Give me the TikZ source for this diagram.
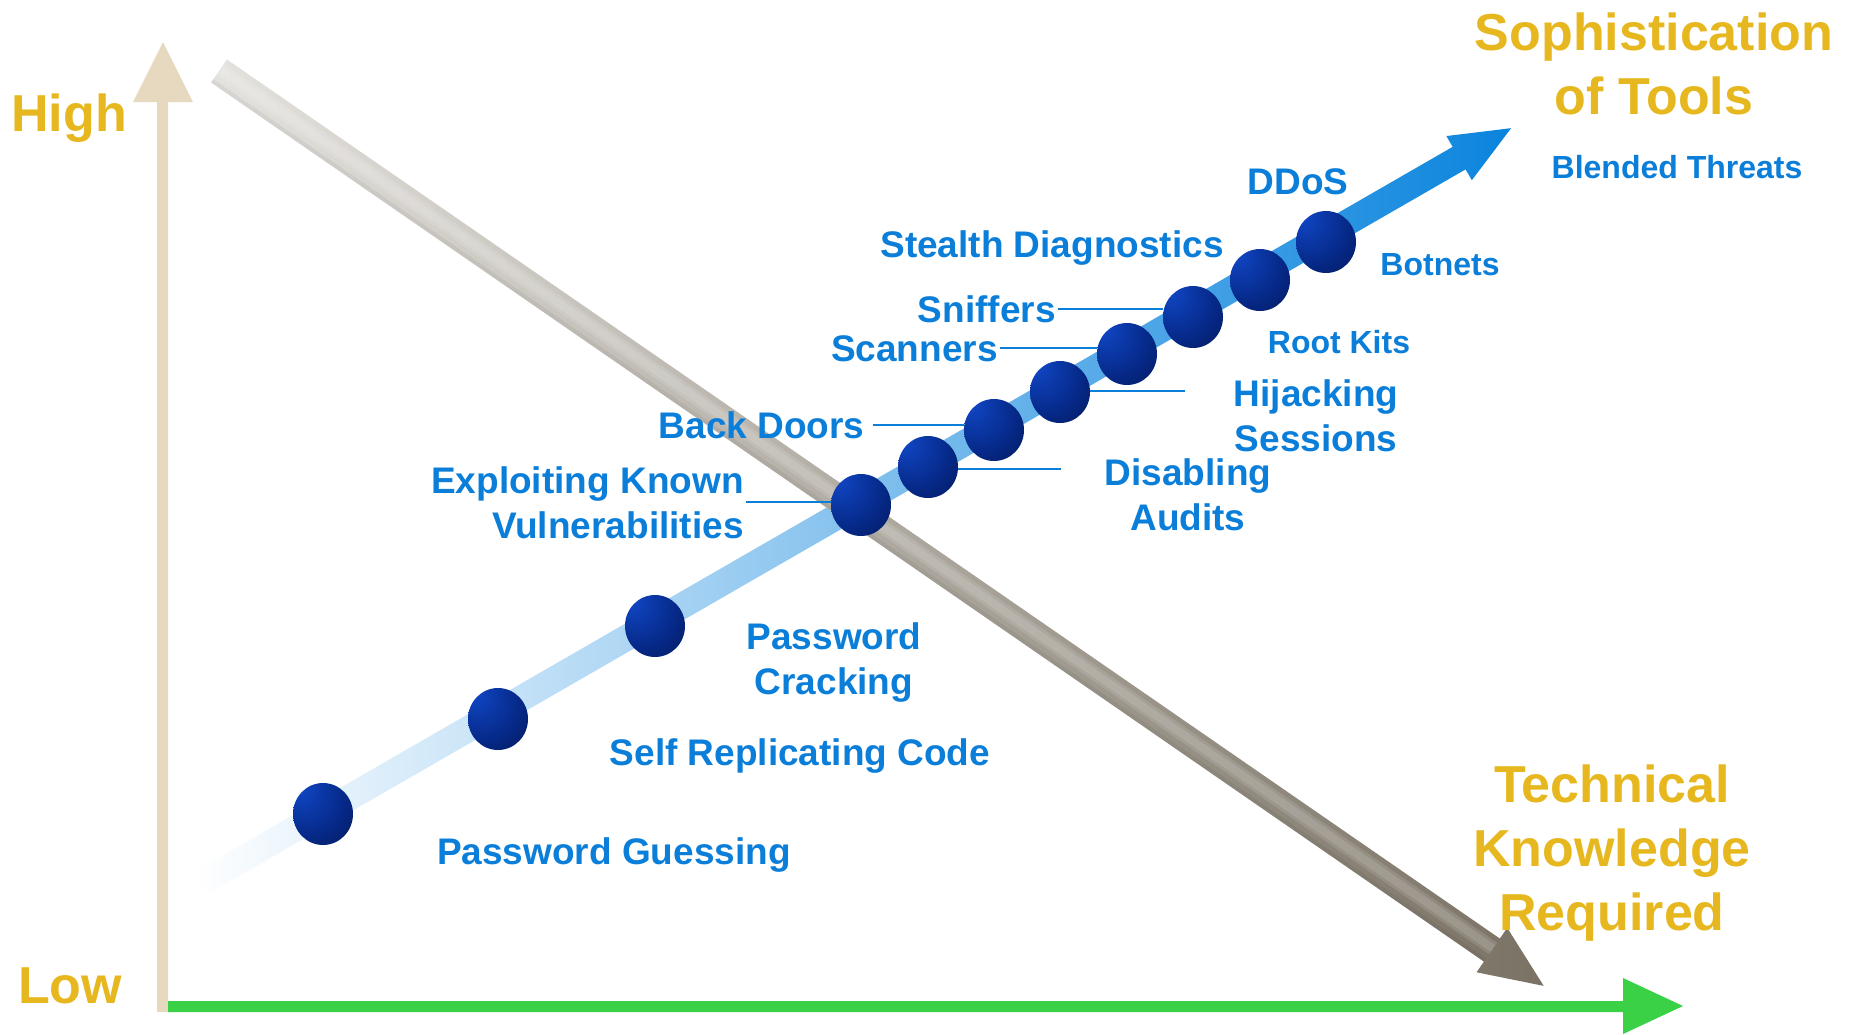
\documentclass[tikz,border=0pt]{standalone}
\usepackage{fontspec}
\setmainfont{Liberation Sans}
\usetikzlibrary{shapes.geometric}
\definecolor{gold}{HTML}{E6B71E}
\definecolor{lblue}{HTML}{0A7ED8}
\definecolor{beige}{HTML}{E6D9BF}
\definecolor{agreen}{HTML}{3AD147}
\definecolor{ablue}{HTML}{0A84DD}
\definecolor{greyA}{HTML}{E4E2DE}
\definecolor{greyB}{HTML}{7A7264}
\definecolor{ballhi}{HTML}{1148C8}
\definecolor{ballmid}{HTML}{062A8A}
\definecolor{balldk}{HTML}{021450}
\definecolor{ballxd}{HTML}{000A28}
\pgfdeclareradialshading{ballshade}{\pgfpoint{-22bp}{22bp}}{color(0bp)=(ballhi); color(30bp)=(ballmid); color(55bp)=(balldk); color(80bp)=(ballxd)}
\tikzset{
  lbl/.style={text=lblue, font=\bfseries\fontsize{18.5}{22.5}\selectfont, inner sep=0pt, text height=13.25pt, text depth=0pt},
  lblm/.style={text=lblue, font=\bfseries\fontsize{18.5}{22.5}\selectfont, inner sep=0pt, align=center},
  slbl/.style={text=lblue, font=\bfseries\fontsize{16}{19}\selectfont, inner sep=0pt, text height=11.45pt, text depth=0pt},
  ttl/.style={text=gold, font=\bfseries\fontsize{26}{32}\selectfont, inner sep=0pt, text height=18.6pt, text depth=0pt},
  ttlm/.style={text=gold, font=\bfseries\fontsize{26}{32}\selectfont, inner sep=0pt, align=center},
  leader/.style={draw=lblue, line width=1pt},
  ball/.style={ellipse, minimum width=30pt, minimum height=31pt, inner sep=0pt, shading=ballshade},
}
\begin{document}
\begin{tikzpicture}[x=0.5pt,y=-0.5pt]
\useasboundingbox (0,0) rectangle (1858,1034);
% vertical axis (beige)
\fill[beige] (157,1012) -- (157,102) -- (133,102) -- (163,42) -- (193,102) -- (168,102) -- (168,1012) -- cycle;
% horizontal axis (green)
\fill[agreen] (168,1001) -- (1623,1001) -- (1623,978) -- (1683,1006) -- (1623,1034) -- (1623,1012) -- (168,1012) -- cycle;
% blue rising arrow
\begin{scope}[shift={(201,883)}, rotate=29.95]
\shade[left color=white, right color=ablue] (0,-13) -- (1452,-13) -- (1452,-25.5) -- (1512,0) -- (1452,25.5) -- (1452,13) -- (0,13) -- cycle;
\end{scope}
% grey falling arrow
\begin{scope}[shift={(219,71)}, rotate=-34.63]
\shade[left color=greyA, right color=greyB] (0,-14) -- (1547,-14) -- (1547,-27) -- (1610,0) -- (1547,27) -- (1547,14) -- (0,14) -- cycle;
\fill[white, opacity=0.12] (0,-9) rectangle (1547,5);
\fill[white, opacity=0.12] (0,-6) rectangle (1547,2);
\fill[black, opacity=0.05] (0,10) rectangle (1547,14);
\end{scope}
% balls
\node[ball] (b1) at (323,814) {};
\node[ball] (b2) at (498,719) {};
\node[ball] (b3) at (655,626) {};
\node[ball] (b4) at (861,505) {};
\node[ball] (b5) at (928,467) {};
\node[ball] (b6) at (994,430) {};
\node[ball] (b7) at (1060,392) {};
\node[ball] (b8) at (1127,354) {};
\node[ball] (b9) at (1193,317) {};
\node[ball] (b10) at (1260,280) {};
\node[ball] (b11) at (1326,242) {};
% axis titles
\node[ttl] (high) at (69,113) {High};
\node[ttl] (low) at (70,985) {Low};
\node[ttlm, anchor=north] (soph) at (1654,12) {Sophistication\\of Tools};
\node[ttlm, anchor=north] (tech) at (1612,764) {Technical\\Knowledge\\Required};
% labels
\node[slbl] (blend) at (1677,167) {Blended Threats};
\node[lbl] (ddos) at (1298,181) {DDoS};
\node[slbl] (bot) at (1440,264) {Botnets};
\node[lbl] (stealth) at (1052,244) {Stealth Diagnostics};
\node[slbl] (root) at (1339,342) {Root Kits};
\node[lbl, anchor=east] (sniff) at (1056,309) {Sniffers};
\node[lbl, anchor=east] (scan) at (998,348) {Scanners};
\node[lblm, anchor=north] (hijack) at (1316,379) {Hijacking\\Sessions};
\node[lbl, anchor=east] (back) at (865,425) {Back Doors};
\node[lblm, anchor=north] (disab) at (1188,458) {Disabling\\Audits};
\node[lblm, align=right, anchor=north east] (expl) at (744,466) {Exploiting Known\\Vulnerabilities};
\node[lblm, anchor=north] (pwcrack) at (834,622) {Password\\Cracking};
\node[lbl] (selfrep) at (800,752) {Self Replicating Code};
\node[lbl] (pwguess) at (614,851) {Password Guessing};
% leader lines
\coordinate (disEnd) at (1061,469);
\coordinate (hijEnd) at (1185,391);
\draw[leader] ([xshift=1pt]sniff.east) -- (sniff.east -| b9.west);
\draw[leader] ([xshift=1pt]scan.east) -- (scan.east -| b8.west);
\draw[leader] ([xshift=4pt]back.east) -- (back.east -| b6.west);
\draw[leader] ([xshift=1pt]expl.east) -- (expl.east -| b4.west);
\draw[leader] (b5.east |- disEnd) -- (disEnd);
\draw[leader] (b7.east |- hijEnd) -- (hijEnd);
\end{tikzpicture}
\end{document}
